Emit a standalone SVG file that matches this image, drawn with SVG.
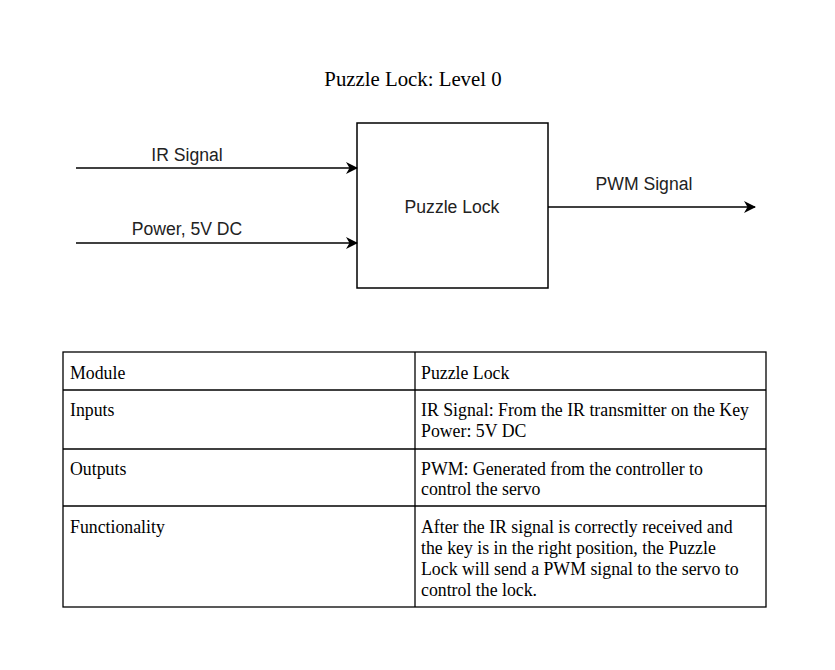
<svg xmlns="http://www.w3.org/2000/svg" width="835" height="670" viewBox="0 0 835 670">
<defs>
<marker id="arr" viewBox="0 0 12 12" refX="11" refY="6" markerWidth="12" markerHeight="12" markerUnits="userSpaceOnUse" orient="auto">
<path d="M0,0 L12,6 L0,12 L3.5,6 Z" fill="#000"/>
</marker>
</defs>
<style>
.sans{font-family:"Liberation Sans",Arial,sans-serif;font-size:17.6px;fill:#222}
.serif{font-family:"Liberation Serif","Times New Roman",serif;font-size:17.8px;fill:#000}
.title{font-family:"Liberation Serif","Times New Roman",serif;font-size:20.8px;fill:#000}
.edge{stroke:#000;stroke-width:1.5;fill:none;marker-end:url(#arr)}
.grid{stroke:#000;stroke-width:1.3;fill:none}
</style>
<rect width="835" height="670" fill="#fff"/>
<text class="title" x="413" y="86" text-anchor="middle">Puzzle Lock: Level 0</text>
<g id="node-puzzle-lock">
<rect x="357" y="123" width="191" height="165" fill="#fff" stroke="#000" stroke-width="1.5"/>
<text class="sans" x="452" y="213" text-anchor="middle">Puzzle Lock</text>
</g>
<g id="connectors">
<line class="edge" x1="76" y1="168" x2="357" y2="168"/>
<line class="edge" x1="76" y1="243" x2="357" y2="243"/>
<line class="edge" x1="548" y1="207" x2="755" y2="207"/>
<text class="sans" x="187" y="161" text-anchor="middle">IR Signal</text>
<text class="sans" x="187" y="235" text-anchor="middle">Power, 5V DC</text>
<text class="sans" x="644" y="190" text-anchor="middle">PWM Signal</text>
</g>
<g id="table">
<rect class="grid" x="63" y="352" width="703" height="255"/>
<line class="grid" x1="415" y1="352" x2="415" y2="607"/>
<line class="grid" x1="63" y1="390" x2="766" y2="390"/>
<line class="grid" x1="63" y1="449" x2="766" y2="449"/>
<line class="grid" x1="63" y1="506" x2="766" y2="506"/>
<text class="serif" x="70" y="379">Module</text>
<text class="serif" x="421" y="379">Puzzle Lock</text>
<text class="serif" x="70" y="416">Inputs</text>
<text class="serif" x="421" y="416">IR Signal: From the IR transmitter on the Key</text>
<text class="serif" x="421" y="437">Power: 5V DC</text>
<text class="serif" x="70" y="475">Outputs</text>
<text class="serif" x="421" y="475">PWM: Generated from the controller to</text>
<text class="serif" x="421" y="495">control the servo</text>
<text class="serif" x="70" y="533">Functionality</text>
<text class="serif" x="421" y="533">After the IR signal is correctly received and</text>
<text class="serif" x="421" y="554">the key is in the right position, the Puzzle</text>
<text class="serif" x="421" y="575">Lock will send a PWM signal to the servo to</text>
<text class="serif" x="421" y="596">control the lock.</text>
</g>
</svg>
